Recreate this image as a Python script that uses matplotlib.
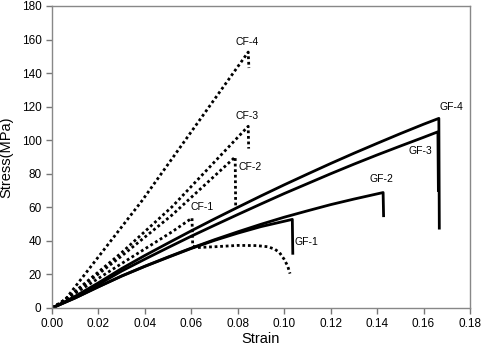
import matplotlib.pyplot as plt
import numpy as np

plt.rcParams['font.family'] = ['Liberation Sans', 'DejaVu Sans']

# carbon fibre specimens (dotted)
cf1_strain = [0, 0.003, 0.0057, 0.03, 0.0517, 0.0603, 0.0606, 0.062, 0.07, 0.08, 0.088, 0.093, 0.096, 0.098, 0.100, 0.1015, 0.1025]
cf1_stress = [0, 2.5, 5, 26.5, 45.4, 53.6, 37, 36, 36.5, 37.3, 37.2, 36.5, 35, 33, 29, 25, 20.5]
cf2_strain = [0, 0.003, 0.0057, 0.03, 0.0517, 0.0789, 0.0791]
cf2_stress = [0, 2.5, 5, 31, 55.4, 90, 60]
cf3_strain = [0, 0.003, 0.0057, 0.03, 0.0517, 0.0845, 0.0847]
cf3_stress = [0, 2.5, 5, 33, 60.3, 108.3, 95]
cf4_strain = [0, 0.003, 0.0057, 0.0388, 0.0845, 0.0848]
cf4_stress = [0, 2.5, 5, 64, 152.5, 143]

# glass fibre specimens (solid)
gf1_strain = [0, 0.005, 0.01, 0.02, 0.03, 0.04, 0.05, 0.06, 0.07, 0.08, 0.09, 0.1035, 0.1037]
gf1_stress = [0, 3, 6, 12.6, 19, 24.8, 30.2, 35.5, 40.3, 44.6, 48.5, 52.8, 32.6]
gf2_strain = [0, 0.005, 0.01, 0.02, 0.03, 0.04, 0.05, 0.06, 0.07, 0.08, 0.09, 0.10, 0.11, 0.12, 0.13, 0.14, 0.1426, 0.1428]
gf2_stress = [0, 3, 6, 12.7, 19.1, 24.9, 30.4, 35.7, 40.7, 45.4, 49.9, 54.1, 57.9, 61.6, 64.9, 68.0, 68.8, 55]
gf3_strain = [0, 0.005, 0.01, 0.02, 0.03, 0.04, 0.05, 0.06, 0.07, 0.08, 0.09, 0.10, 0.11, 0.12, 0.13, 0.14, 0.15, 0.16, 0.1662, 0.1664]
gf3_stress = [0, 3.2, 6.5, 14, 22, 29.1, 36, 42.8, 49.3, 55.7, 62, 68.2, 74.1, 80, 85.7, 91.2, 96.5, 101.7, 105, 70]
gf4_strain = [0, 0.005, 0.01, 0.02, 0.03, 0.04, 0.05, 0.06, 0.07, 0.08, 0.09, 0.10, 0.11, 0.12, 0.13, 0.14, 0.15, 0.16, 0.1666, 0.1668]
gf4_stress = [0, 3.4, 7, 15, 23.5, 31.3, 38.7, 46, 53.1, 60, 66.8, 73.4, 79.8, 86.1, 92.2, 98.1, 103.9, 109.5, 113, 47.6]

cf_data = [(cf1_strain, cf1_stress), (cf2_strain, cf2_stress),
           (cf3_strain, cf3_stress), (cf4_strain, cf4_stress)]
gf_data = [(gf1_strain, gf1_stress), (gf2_strain, gf2_stress),
           (gf3_strain, gf3_stress), (gf4_strain, gf4_stress)]

labels = ['CF-1', 'CF-2', 'CF-3', 'CF-4', 'GF-1', 'GF-2', 'GF-3', 'GF-4']
label_x = [0.0648, 0.0854, 0.084, 0.084, 0.1096, 0.1418, 0.1586, 0.172]
label_y = [60, 84, 114.3, 158.3, 39.3, 76.8, 93.5, 119.6]

fig = plt.figure(figsize=(4.84, 3.5), dpi=100)
ax = fig.add_axes([0.1074, 0.12, 0.8636, 0.863])

for x, y in cf_data:
    ax.plot(x, y, color='black', lw=2, linestyle=(0, (1, 1)))
for x, y in gf_data:
    ax.plot(x, y, color='black', lw=2)

for t, x, y in zip(labels, label_x, label_y):
    ax.text(x, y, t, fontsize=7.5, ha='center', va='center')

ax.set_xlim(0, 0.18)
ax.set_ylim(0, 180)
ax.set_xticks(np.arange(0, 0.181, 0.02))
ax.set_yticks(np.arange(0, 181, 20))
ax.xaxis.set_major_formatter(plt.FormatStrFormatter('%.2f'))
ax.tick_params(direction='out', length=4, width=1, color='#777777', labelsize=8.5)
for s in ax.spines.values():
    s.set_color('#888888')
    s.set_linewidth(1)

ax.set_xlabel('Strain', fontsize=10.5, labelpad=1)
ax.set_ylabel('Stress(MPa)', fontsize=10.5, labelpad=6)

fig.savefig('out.png', dpi=100)
